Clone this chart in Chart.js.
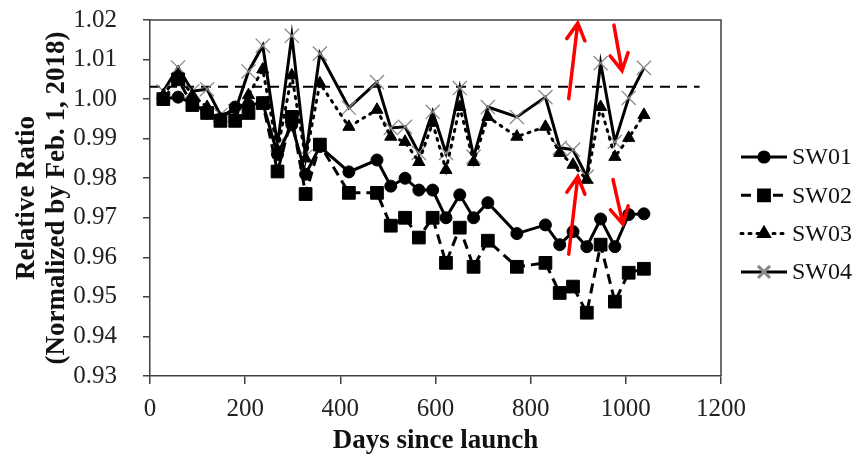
<!DOCTYPE html>
<html>
<head>
<meta charset="utf-8">
<script src="https://cdn.jsdelivr.net/npm/chart.js@4/dist/chart.umd.min.js"></script>
<style>
  html, body { margin: 0; padding: 0; background: #fff; }
  #chart { display: block; }
</style>
</head>
<body>
<canvas id="chart" width="861" height="459"></canvas>
<script>
// days since launch for each measurement
let days = [28, 59, 89, 120, 148, 179, 207, 237, 268, 298, 327, 357, 418, 477, 506, 536,
            565, 594, 622, 651, 680, 710, 771, 831, 861, 889, 918, 947, 977, 1006, 1038];

let sw01 = [1.000, 1.0005, 0.999, 0.9965, 0.995, 0.998, 0.9985, 0.999, 0.986, 0.9935, 0.981, 0.988,
            0.9816, 0.9846, 0.978, 0.980, 0.977, 0.977, 0.970, 0.9758, 0.970, 0.9738, 0.966,
            0.9682, 0.9632, 0.9665, 0.9627, 0.9697, 0.9627, 0.9708, 0.971];
let sw02 = [1.000, 1.005, 0.9985, 0.9965, 0.9945, 0.9945, 0.9965, 0.999, 0.9817, 0.9955, 0.976, 0.9885,
            0.9763, 0.9763, 0.968, 0.970, 0.965, 0.970, 0.9586, 0.9675, 0.9576, 0.9642, 0.9576,
            0.9586, 0.951, 0.9526, 0.946, 0.9632, 0.9488, 0.9561, 0.9571];
let sw03 = [1.001, 1.006, 1.001, 0.998, 0.995, 0.9955, 1.001, 1.0075, 0.987, 1.006, 0.985, 1.004,
            0.993, 0.9973, 0.9905, 0.9892, 0.9841, 0.994, 0.9821, 0.998, 0.9841, 0.9955, 0.9905,
            0.993, 0.9864, 0.9834, 0.9796, 0.998, 0.9854, 0.9902, 0.996];
let sw04 = [1.002, 1.008, 1.002, 1.0025, 0.996, 0.997, 1.007, 1.0135, 0.9885, 1.016, 0.9855, 1.0115,
            0.9978, 1.0043, 0.9927, 0.993, 0.9864, 0.9968, 0.9864, 1.0028, 0.9854, 0.998, 0.9955,
            1.0005, 0.9877, 0.9872, 0.9804, 1.0091, 0.9892, 1.0003, 1.0079];

// dashed reference level
let refLevel = 1.0031;
let refRange = [0, 1155];

let xTicks = [0, 200, 400, 600, 800, 1000, 1200];
let yTicks = [0.93, 0.94, 0.95, 0.96, 0.97, 0.98, 0.99, 1.00, 1.01, 1.02];

// red annotation arrows, [x0, y0, x1, y1] in data units (tail -> tip)
let arrows = [
  [880, 1.0001, 899, 1.0192],
  [975, 1.0187, 992, 1.0072],
  [880, 0.9608, 899, 0.9804],
  [973, 0.9797, 994, 0.9684]
];

const serif = "'Liberation Serif', 'Times New Roman', serif";

function pts(arr) {
  return arr.map((v, i) => ({ x: days[i], y: v }));
}

let datasets = [
  {
    label: 'SW01', data: pts(sw01),
    borderColor: '#000', backgroundColor: '#000', borderWidth: 3,
    pointStyle: 'circle', pointRadius: 6, pointBackgroundColor: '#000', pointBorderColor: '#000', pointBorderWidth: 1
  },
  {
    label: 'SW02', data: pts(sw02),
    borderColor: '#000', backgroundColor: '#000', borderWidth: 3, borderDash: [10, 6],
    pointStyle: 'rect', pointRadius: 9, pointBackgroundColor: '#000', pointBorderColor: '#000', pointBorderWidth: 1
  },
  {
    label: 'SW03', data: pts(sw03),
    borderColor: '#000', backgroundColor: '#000', borderWidth: 3, borderDash: [2, 6], borderCapStyle: 'round',
    pointStyle: 'triangle', pointRadius: 7, pointBackgroundColor: '#000', pointBorderColor: '#000', pointBorderWidth: 1
  },
  {
    label: 'SW04', data: pts(sw04),
    borderColor: '#000', backgroundColor: '#000', borderWidth: 3,
    pointStyle: 'crossRot', pointRadius: 10, pointBorderColor: '#8a8a8a', pointBorderWidth: 1.3
  },
  {
    label: 'ref', data: refRange.map(x => ({ x: x, y: refLevel })),
    borderColor: '#000', borderWidth: 2, borderDash: [10, 7], pointRadius: 0
  }
];

const frame = {
  id: 'frame',
  afterDatasetsDraw(chart) {
    const ctx = chart.ctx, a = chart.chartArea;
    const sx = chart.scales.x, sy = chart.scales.y;
    ctx.save();
    // top and right border of the plot box
    ctx.strokeStyle = '#404040';
    ctx.lineWidth = 1.5;
    ctx.beginPath();
    ctx.moveTo(a.left, a.top);
    ctx.lineTo(a.right, a.top);
    ctx.lineTo(a.right, a.bottom);
    ctx.stroke();

    // red arrows
    ctx.strokeStyle = '#ff0000';
    ctx.lineWidth = 3.5;
    ctx.lineCap = 'round';
    arrows.forEach(ar => {
      const x0 = sx.getPixelForValue(ar[0]), y0 = sy.getPixelForValue(ar[1]);
      const x1 = sx.getPixelForValue(ar[2]), y1 = sy.getPixelForValue(ar[3]);
      const ang = Math.atan2(y1 - y0, x1 - x0);
      const len = 19, spread = 0.5;
      ctx.beginPath();
      ctx.moveTo(x0, y0);
      ctx.lineTo(x1, y1);
      ctx.moveTo(x1 - len * Math.cos(ang - spread), y1 - len * Math.sin(ang - spread));
      ctx.lineTo(x1, y1);
      ctx.lineTo(x1 - len * Math.cos(ang + spread), y1 - len * Math.sin(ang + spread));
      ctx.stroke();
    });
    ctx.restore();
  },
  afterDraw(chart) {
    // legend on the right side
    const ctx = chart.ctx, a = chart.chartArea;
    const lx = a.right + 20, lw = 46, gap = 38.3, top = 157;
    ctx.save();
    datasets.slice(0, 4).forEach((ds, i) => {
      const y = top + i * gap;
      ctx.strokeStyle = '#000';
      ctx.lineWidth = 3;
      ctx.lineCap = ds.borderCapStyle || 'butt';
      ctx.setLineDash(ds.borderDash || []);
      ctx.beginPath();
      ctx.moveTo(lx, y);
      ctx.lineTo(lx + lw, y);
      ctx.stroke();
      ctx.setLineDash([]);
      ctx.fillStyle = ds.pointBackgroundColor || '#000';
      ctx.strokeStyle = ds.pointBorderColor;
      Chart.helpers.drawPoint(ctx, {
        pointStyle: ds.pointStyle, radius: ds.pointRadius * 0.85,
        borderWidth: ds.pointBorderWidth, rotation: 0
      }, lx + lw / 2, y);
      ctx.fillStyle = '#111';
      ctx.font = '24px ' + serif;
      ctx.textBaseline = 'middle';
      ctx.textAlign = 'left';
      ctx.fillText(ds.label, lx + lw + 5, y + 1);
    });
    ctx.restore();
  }
};

new Chart(document.getElementById('chart'), {
  type: 'line',
  data: { datasets: datasets },
  options: {
    responsive: false,
    animation: false,
    layout: { padding: { top: 20, right: 140, left: 0, bottom: 0 } },
    plugins: { legend: { display: false }, tooltip: { enabled: false } },
    scales: {
      x: {
        type: 'linear', min: 0, max: 1200,
        afterBuildTicks: s => { s.ticks = xTicks.map(v => ({ value: v })); },
        afterFit: s => { s.height = 83; s.paddingLeft = 0; s.paddingRight = 0; },
        grid: { drawOnChartArea: false, drawTicks: true, tickLength: 8, color: '#404040', lineWidth: 1.5 },
        border: { color: '#404040', width: 1.5 },
        ticks: { font: { family: serif, size: 25 }, color: '#222', padding: 10, maxRotation: 0, callback: v => String(v) },
        title: {
          display: true, text: 'Days since launch', color: '#111',
          font: { family: serif, size: 27, weight: 'bold', lineHeight: 1.1 },
          padding: { top: 0, bottom: 3 }
        }
      },
      y: {
        min: 0.93, max: 1.02,
        afterBuildTicks: s => { s.ticks = yTicks.map(v => ({ value: v })); },
        afterFit: s => { s.width = 150; s.paddingTop = 0; s.paddingBottom = 0; },
        grid: { drawOnChartArea: false, drawTicks: true, tickLength: 7, color: '#404040', lineWidth: 1.5 },
        border: { color: '#404040', width: 1.5 },
        ticks: { font: { family: serif, size: 25 }, color: '#222', padding: 26, callback: v => v.toFixed(2) },
        title: {
          display: true, text: ['Relative Ratio', '(Normalized by Feb. 1, 2018)'], color: '#111',
          font: { family: serif, size: 27, weight: 'bold', lineHeight: 1.1 },
          padding: { top: 12, bottom: 0 }
        }
      }
    }
  },
  plugins: [frame]
});
</script>
</body>
</html>
